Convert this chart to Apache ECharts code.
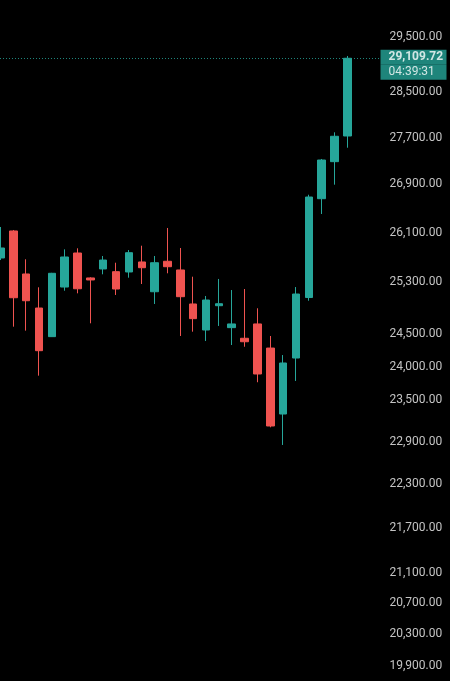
<!DOCTYPE html>
<html>
<head>
<meta charset="utf-8">
<script src="https://cdn.jsdelivr.net/npm/echarts@6/dist/echarts.min.js"></script>
<style>
  html, body { margin: 0; padding: 0; background: #000; }
  #chart { width: 450px; height: 681px; }
</style>
</head>
<body>
<div id="chart"></div>
<script>
// candle slots (last two are the empty right margin)
const slots = ['1', '2', '3', '4', '5', '6', '7', '8', '9', '10', '11', '12', '13', '14', '15',
  '16', '17', '18', '19', '20', '21', '22', '23', '24', '25', '26', '27', '28', '', ' ']

const opens  = [25690, 26128, 25434, 24898, 24456, 25227, 25770, 25371, 25514, 25471, 25466, 25626, 25153, 25637,
  25498, 24961, 24558, 24934, 24594, 24431, 24651, 24282, 23300, 24131, 25062, 26661, 27286, 27728]
const closes = [25851, 25059, 25012, 24242, 25445, 25706, 25200, 25339, 25657, 25196, 25775, 25534, 25614, 25550,
  25075, 24733, 25023, 24965, 24651, 24378, 23891, 23126, 24056, 25117, 26689, 27314, 27723, 29109.72]
const lows   = [25657, 24609, 24548, 23866, 24451, 25169, 25128, 24661, 25429, 25102, 25375, 25275, 24961, 25445,
  24466, 24532, 24389, 24620, 24328, 24302, 23768, 23107, 22853, 23787, 25012, 26407, 26896, 27525]
const highs  = [26193, 26144, 25669, 25223, 25452, 25829, 25846, 25382, 25722, 25614, 25818, 25888, 25722, 26177,
  25851, 25391, 25086, 25355, 25180, 25196, 24894, 24466, 24176, 25227, 26727, 27332, 27792, 29152]

const priceTicks = [29500, 28500, 27700, 26900, 26100, 25300, 24500, 24000, 23500, 22900, 22300, 21700, 21100, 20700, 20300, 19900]
const countdown = '04:39:31'

const UP = '#26a69a'
const DOWN = '#ef5350'

const fmt = v => Number(v).toLocaleString('en-US', { minimumFractionDigits: 2, maximumFractionDigits: 2 })

const candles = opens.map((o, i) => [o, closes[i], lows[i], highs[i]])
const lastClose = closes[closes.length - 1]

const chart = echarts.init(document.getElementById('chart'))

const tagText = {
  fontFamily: 'Roboto',
  fontSize: 12,
  color: '#ffffff',
  backgroundColor: UP,
  width: 53,
  height: 15,
  lineHeight: 15,
  align: 'left',
  padding: [0, 5, 0, 8]
}

chart.setOption({
  backgroundColor: '#000000',
  animation: false,
  grid: { left: -6, right: 70.5, top: 0, bottom: 0, outerBoundsMode: 'none' },
  xAxis: {
    type: 'category',
    data: slots,
    boundaryGap: true,
    axisLine: { show: false },
    axisTick: { show: false },
    axisLabel: { show: false },
    splitLine: { show: false }
  },
  yAxis: {
    type: 'log',
    logBase: 10,
    position: 'right',
    min: 19715,
    max: 30191,
    axisLine: { show: false },
    axisTick: { show: false },
    splitLine: { show: false },
    axisLabel: {
      customValues: priceTicks,
      color: '#c4c4c4',
      fontFamily: 'Roboto',
      fontSize: 12,
      margin: 10,
      padding: [0, 0, 4, 0],
      formatter: v => fmt(v)
    }
  },
  series: [
    {
      type: 'candlestick',
      data: candles,
      barWidth: 8,
      itemStyle: {
        color: UP,
        color0: DOWN,
        borderColor: UP,
        borderColor0: DOWN,
        borderWidth: 1
      },
      markLine: {
        silent: true,
        symbol: ['none', 'none'],
        lineStyle: { type: [1, 2], color: UP, width: 1, opacity: 0.8 },
        label: {
          show: true,
          position: 'end',
          distance: 1,
          formatter: () => '{s| }\n{a|' + fmt(lastClose) + '}\n{b|' + countdown + '}',
          rich: {
            s: { fontSize: 1, height: 13, lineHeight: 13 },
            a: Object.assign({}, tagText, { fontWeight: 'bold' }),
            b: Object.assign({}, tagText)
          }
        },
        data: [{ yAxis: lastClose }]
      }
    }
  ]
})
</script>
</body>
</html>
